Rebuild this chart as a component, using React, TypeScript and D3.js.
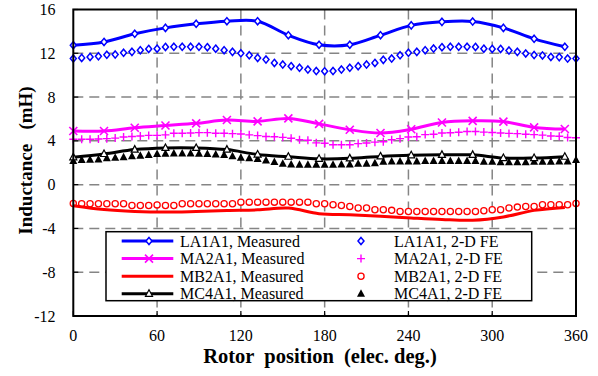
import React from "react";
import * as d3 from "d3";

// Rotor positions (electrical degrees)
const measuredDeg = d3.range(0, 353, 22);
const feDeg = d3.range(0, 361, 6);

// Measured inductances (mH)
const la1a1Measured = [12.74, 13.04, 13.78, 14.32, 14.69, 14.93, 14.93, 13.65, 12.78, 12.78, 13.65, 14.55, 14.87, 14.9, 14.32, 13.32, 12.59];
const ma2a1Measured = [4.9, 4.9, 5.2, 5.4, 5.6, 5.9, 5.78, 6.05, 5.55, 5.02, 4.72, 5.06, 5.68, 5.83, 5.76, 5.23, 5.08];
const mb2a1Measured = [-1.93, -2.28, -2.45, -2.51, -2.45, -2.36, -2.3, -2.14, -2.65, -2.75, -2.88, -3.04, -3.18, -3.25, -2.95, -2.35, -2.08];
const mc4a1Measured = [2.5, 2.8, 3.2, 3.35, 3.35, 3.2, 2.75, 2.55, 2.36, 2.4, 2.58, 2.68, 2.72, 2.72, 2.43, 2.43, 2.55];

// 2-D finite element predictions (mH)
const la1a1FE = [
  11.52, 11.58, 11.67, 11.72, 11.86, 11.88, 12.04, 12.13, 12.28, 12.4, 12.42,
  12.58, 12.59, 12.59, 12.59, 12.59, 12.56, 12.42, 12.28, 12.13, 12.0,
  11.82, 11.58, 11.43, 11.12, 10.97, 10.82, 10.67, 10.51, 10.38, 10.36,
  10.38, 10.51, 10.67, 10.82, 10.97, 11.12, 11.4, 11.52, 11.82, 12.04,
  12.13, 12.28, 12.43, 12.56, 12.59, 12.59, 12.59, 12.58, 12.42, 12.4,
  12.4, 12.25, 12.13, 11.98, 11.84, 11.8, 11.67, 11.65, 11.52, 11.52,
];
const ma2a1FE = [
  4.15, 4.15, 4.15, 4.17, 4.2, 4.25, 4.35, 4.4, 4.45, 4.5, 4.5,
  4.55, 4.7, 4.7, 4.72, 4.75, 4.75, 4.7, 4.7, 4.66, 4.62,
  4.55, 4.48, 4.4, 4.38, 4.32, 4.24, 4.1, 4.05, 3.82, 3.78,
  3.65, 3.65, 3.65, 3.75, 3.8, 3.88, 3.92, 4.1, 4.2, 4.35,
  4.38, 4.57, 4.6, 4.72, 4.74, 4.78, 4.85, 4.85, 4.8, 4.76,
  4.72, 4.68, 4.66, 4.6, 4.57, 4.52, 4.45, 4.42, 4.3, 4.28,
];
const mb2a1FE = [
  -1.72, -1.75, -1.75, -1.75, -1.75, -1.75, -1.75, -1.9, -1.9, -1.9, -1.85,
  -1.9, -1.9, -1.75, -1.75, -1.75, -1.75, -1.75, -1.75, -1.75, -1.6,
  -1.6, -1.6, -1.6, -1.6, -1.6, -1.6, -1.6, -1.6, -1.75, -1.75,
  -1.84, -1.9, -1.99, -2.14, -2.14, -2.3, -2.3, -2.35, -2.45, -2.45,
  -2.45, -2.45, -2.45, -2.45, -2.45, -2.45, -2.45, -2.45, -2.38, -2.3,
  -2.3, -2.14, -2.05, -1.99, -1.99, -1.84, -1.84, -1.84, -1.84, -1.72,
];
const mc4a1FE = [
  2.15, 2.25, 2.28, 2.3, 2.4, 2.45, 2.5, 2.6, 2.65, 2.7, 2.8,
  2.82, 2.85, 2.85, 2.85, 2.82, 2.8, 2.75, 2.7, 2.6, 2.45,
  2.42, 2.35, 2.2, 2.07, 1.92, 1.85, 1.82, 1.82, 1.82, 1.82,
  1.82, 1.84, 1.85, 1.9, 1.92, 1.95, 2.1, 2.12, 2.12, 2.12,
  2.12, 2.15, 2.15, 2.15, 2.15, 2.15, 2.15, 2.15, 2.1, 2.1,
  2.05, 2.05, 2.05, 2.05, 2.08, 2.1, 2.1, 2.12, 2.12, 2.25,
];

const xTicks = [0, 60, 120, 180, 240, 300, 360];
const yTicks = [-12, -8, -4, 0, 4, 8, 12, 16];

const measuredLabels = ["LA1A1, Measured", "MA2A1, Measured", "MB2A1, Measured", "MC4A1, Measured"];
const feLabels = ["LA1A1, 2-D FE", "MA2A1, 2-D FE", "MB2A1, 2-D FE", "MC4A1, 2-D FE"];

const BLUE = "#0000ff";
const MAGENTA = "#ff00ff";
const RED = "#ff0000";
const BLACK = "#000000";
const FONT = "Liberation Serif";

type MarkerKind = "diamond" | "cross" | "none" | "triangleOpen" | "plus" | "circle" | "triangleFilled";

function Marker({ kind, x, y, color }: { kind: MarkerKind; x: number; y: number; color: string }) {
  switch (kind) {
    case "diamond":
      return (
        <path d={`M${x},${y - 3.6}L${x + 3},${y}L${x},${y + 3.6}L${x - 3},${y}Z`} fill="#fff" stroke={color} strokeWidth={1.5} />
      );
    case "cross":
      return (
        <path d={`M${x - 4},${y - 4}L${x + 4},${y + 4}M${x - 4},${y + 4}L${x + 4},${y - 4}`} stroke={color} strokeWidth={1.6} />
      );
    case "plus":
      return (
        <path d={`M${x - 4},${y}L${x + 4},${y}M${x},${y - 4}L${x},${y + 4}`} stroke={color} strokeWidth={1.4} />
      );
    case "circle":
      return <circle cx={x} cy={y} r={3.1} fill="#fff" stroke={color} strokeWidth={1.3} />;
    case "triangleOpen":
      return (
        <path d={`M${x},${y - 4}L${x + 3.5},${y + 2.5}L${x - 3.5},${y + 2.5}Z`} fill="#fff" stroke={color} strokeWidth={1.2} />
      );
    case "triangleFilled":
      return <path d={`M${x},${y - 4.5}L${x + 4},${y + 3}L${x - 4},${y + 3}Z`} fill={color} />;
    default:
      return null;
  }
}

export default function App() {
  const width = 598;
  const height = 376;
  const left = 73.3;
  const right = 576;
  const top = 9.5;
  const bottom = 316;

  const x = d3.scaleLinear().domain([0, 360]).range([left, right]);
  const y = d3.scaleLinear().domain([-12, 16]).range([bottom, top]);

  const line = d3
    .line<[number, number]>()
    .x((d) => x(d[0]))
    .y((d) => y(d[1]))
    .curve(d3.curveCatmullRom.alpha(0.5));

  const measured = [
    { values: la1a1Measured, color: BLUE, marker: "diamond" as MarkerKind },
    { values: ma2a1Measured, color: MAGENTA, marker: "cross" as MarkerKind },
    { values: mb2a1Measured, color: RED, marker: "none" as MarkerKind },
    { values: mc4a1Measured, color: BLACK, marker: "triangleOpen" as MarkerKind },
  ];
  const fe = [
    { values: la1a1FE, color: BLUE, marker: "diamond" as MarkerKind },
    { values: ma2a1FE, color: MAGENTA, marker: "plus" as MarkerKind },
    { values: mb2a1FE, color: RED, marker: "circle" as MarkerKind },
    { values: mc4a1FE, color: BLACK, marker: "triangleFilled" as MarkerKind },
  ];

  const legend = { x0: 106, y0: 231.7, x1: 531.7, y1: 300.7 };
  const rowY = [241, 258.6, 276.2, 293.8];
  const textStyle = { fontFamily: FONT, whiteSpace: "pre" as const };

  return (
    <svg
      width={width}
      height={height}
      style={{ position: "absolute", left: 0, top: 0, background: "#fff", fontFamily: FONT }}
    >
      <rect x={0} y={0} width={width} height={height} fill="#fff" />

      {/* dashed grid */}
      <g stroke="#858585" strokeWidth={1.5} strokeDasharray="10,6">
        {xTicks.slice(1, -1).map((t) => (
          <line key={`gx${t}`} x1={x(t)} x2={x(t)} y1={top} y2={bottom} />
        ))}
        {yTicks.slice(1, -1).map((t) => (
          <line key={`gy${t}`} x1={left} x2={right} y1={y(t)} y2={y(t)} />
        ))}
      </g>

      {/* inward ticks */}
      <g stroke={BLACK} strokeWidth={1.2}>
        {xTicks.map((t) => (
          <line key={`tx${t}`} x1={x(t)} x2={x(t)} y1={bottom} y2={bottom - 5} />
        ))}
        {yTicks.map((t) => (
          <line key={`ty${t}`} x1={left} x2={left + 5} y1={y(t)} y2={y(t)} />
        ))}
      </g>

      {/* FE points */}
      {fe.map((s, i) => (
        <g key={`fe${i}`}>
          {s.values.map((v, j) => (
            <Marker key={j} kind={s.marker} x={x(feDeg[j])} y={y(v)} color={s.color} />
          ))}
        </g>
      ))}

      {/* measured curves */}
      {measured.map((s, i) => (
        <g key={`m${i}`}>
          <path
            d={line(s.values.map((v, j) => [measuredDeg[j], v] as [number, number])) || ""}
            fill="none"
            stroke={s.color}
            strokeWidth={3}
          />
          {s.values.map((v, j) => (
            <Marker key={j} kind={s.marker} x={x(measuredDeg[j])} y={y(v)} color={s.color} />
          ))}
        </g>
      ))}

      {/* plot frame */}
      <rect x={left} y={top} width={right - left} height={bottom - top} fill="none" stroke={BLACK} strokeWidth={2} />

      {/* tick labels */}
      <g fontSize={16} fill={BLACK}>
        {yTicks.map((t) => (
          <text key={`ly${t}`} x={55.5} y={y(t)} textAnchor="end" dominantBaseline="central" style={textStyle}>
            {t}
          </text>
        ))}
        {xTicks.map((t) => (
          <text key={`lx${t}`} x={x(t)} y={341} textAnchor="middle" style={textStyle}>
            {t}
          </text>
        ))}
      </g>

      {/* axis titles */}
      <text x={320} y={363} textAnchor="middle" fontWeight="bold" fontSize={20.5} style={textStyle}>
        {"Rotor  position  (elec. deg.)"}
      </text>
      <text
        transform={`translate(32,160.5) rotate(-90)`}
        textAnchor="middle"
        fontWeight="bold"
        fontSize={19}
        style={textStyle}
      >
        {"Inductance   (mH)"}
      </text>

      {/* legend */}
      <rect
        x={legend.x0}
        y={legend.y0}
        width={legend.x1 - legend.x0}
        height={legend.y1 - legend.y0}
        fill="#fff"
        stroke={BLACK}
        strokeWidth={1.5}
      />
      {measured.map((s, i) => (
        <g key={`lm${i}`}>
          <line x1={121.7} x2={173.3} y1={rowY[i]} y2={rowY[i]} stroke={s.color} strokeWidth={3} />
          <Marker kind={s.marker} x={149} y={rowY[i]} color={s.color} />
          <text x={180} y={rowY[i]} dominantBaseline="central" fontSize={16} style={textStyle}>
            {measuredLabels[i]}
          </text>
        </g>
      ))}
      {fe.map((s, i) => (
        <g key={`lf${i}`}>
          <Marker kind={s.marker} x={361} y={rowY[i]} color={s.color} />
          <text x={394} y={rowY[i]} dominantBaseline="central" fontSize={16} style={textStyle}>
            {feLabels[i]}
          </text>
        </g>
      ))}
    </svg>
  );
}
